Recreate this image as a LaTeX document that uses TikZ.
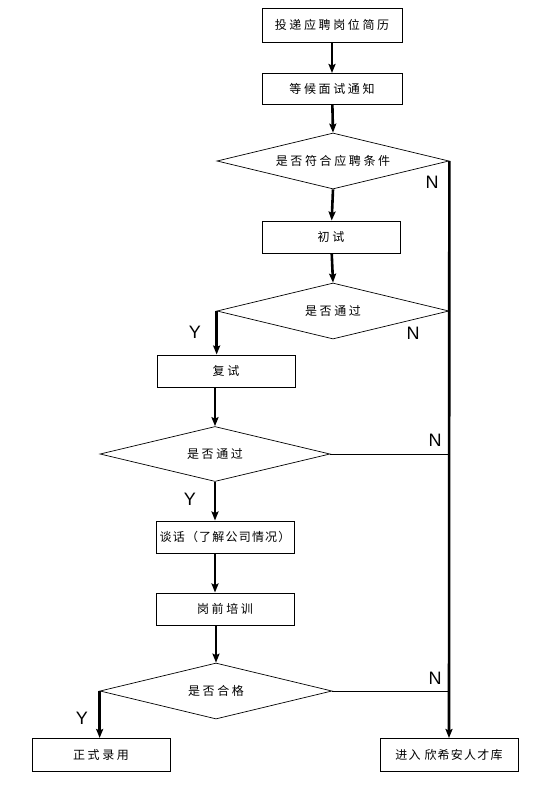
\documentclass[tikz,border=0pt]{standalone}
\usepackage{fontspec}
\setmainfont{Liberation Sans}
\newfontfamily\cjk[LetterSpace=22]{Noto Sans CJK SC}
\newfontfamily\cjknarrow[LetterSpace=10]{Noto Sans CJK SC}
\usetikzlibrary{shapes.geometric,arrows.meta}
\begin{document}
\begin{tikzpicture}[x=1pt,y=-1pt,
  stepbox/.style={draw,line width=1pt,rectangle,minimum width=138pt,minimum height=32pt,inner sep=0pt,font=\cjk\fontsize{12}{14}\selectfont},
  decision/.style={draw,line width=0.7pt,diamond,shape aspect=4.1,inner sep=0pt,minimum width=232pt,minimum height=56pt,font=\cjk\fontsize{12}{14}\selectfont},
  flow/.style={line width=2.6pt,-{Stealth[length=9pt,width=7pt,inset=1.5pt]}},
  thin/.style={line width=0.8pt},
  yn/.style={font=\fontsize{18}{20}\selectfont,inner sep=0pt}]
\useasboundingbox (0,0) rectangle (546,790);
\fill[white] (0,0) rectangle (546,790);
\node[stepbox,minimum width=140pt,minimum height=34pt] (b1) at (332,25) {投递应聘岗位简历};
\node[stepbox,minimum width=140pt,minimum height=31pt] (b2) at (332,89) {等候面试通知};
\node[decision] (d1) at (333,161) {是否符合应聘条件};
\node[stepbox] (b3) at (331,237) {初试};
\node[decision] (d2) at (333,311) {是否通过};
\node[stepbox] (b4) at (226,371) {复试};
\node[decision,minimum width=230pt,minimum height=55pt] (d3) at (215,454) {是否通过};
\node[stepbox,font=\cjknarrow\fontsize{12}{14}\selectfont] (b5) at (225,537) {谈话（了解公司情况）};
\node[stepbox] (b6) at (225,609) {岗前培训};
\node[decision] (d4) at (216,691) {是否合格};
\node[stepbox,minimum height=33pt] (b7) at (101,755) {正式录用};
\node[stepbox,minimum height=33pt,font=\cjknarrow\fontsize{12}{14}\selectfont] (b8) at (449,755) {进入 欣希安人才库};
% main flow
\draw[flow] (b1) -- (b2);
\draw[flow] (b2) -- (d1.north);
\draw[flow] (d1.south) -- (b3);
\draw[flow] (b3) -- (d2.north);
\draw[flow] (d2.west) -- (d2.west |- b4.north);
\draw[flow] (d3.north |- b4.south) -- (d3.north);
\draw[flow] (d3.south) -- (d3.south |- b5.north);
\draw[flow] (d3.south |- b5.south) -- (d3.south |- b6.north);
\draw[flow] (d4.north |- b6.south) -- (d4.north);
\draw[flow] (d4.west) -- (d4.west |- b7.north);
% reject trunk
\draw[flow] (d1.east) -- (b8.north);
\draw[thin] (d3.east) -- (d3.east -| b8.north);
\draw[thin] (d4.east) -- (d4.east -| b8.north);
% labels
\node[yn] (n1) at (432,182) {N};
\node[yn] (n2) at (413,333) {N};
\node[yn] (n3) at (435,440) {N};
\node[yn] (n4) at (435,678) {N};
\node[yn] (y1) at (195,332) {Y};
\node[yn] (y2) at (190,499) {Y};
\node[yn] (y3) at (82,718) {Y};
\end{tikzpicture}
\end{document}
